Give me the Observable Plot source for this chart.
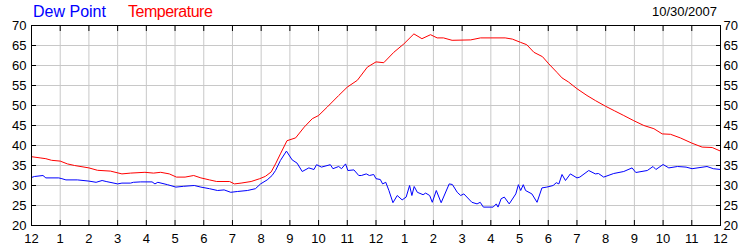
<!DOCTYPE html>
<html>
<head>
<meta charset="utf-8">
<script src="https://cdn.jsdelivr.net/npm/d3@7"></script>
<script src="https://cdn.jsdelivr.net/npm/@observablehq/plot@0.6"></script>
<style>
  html, body { margin: 0; padding: 0; background: #fff; }
  #wrap { position: relative; width: 750px; height: 250px; font-family: "Liberation Sans", Arial, sans-serif; }
  .leg { position: absolute; font-size: 16px; line-height: 16px; white-space: nowrap; }
  #date { position: absolute; font-size: 13px; line-height: 13px; right: 33px; top: 5px; color: #000; }
</style>
</head>
<body>
<div id="wrap">
  <div class="leg" id="legDew" style="left:33px; top:4px; color:#0000ff;"></div>
  <div class="leg" id="legTemp" style="left:128px; top:4px; color:#ff0000; letter-spacing:-0.5px;"></div>
  <div id="date"></div>
</div>
<script>
const seriesNames = ["Dew Point", "Temperature"];
const dateLabel = "10/30/2007";

const xTicks = d3.range(0, 25);
const xTickLabels = ["12","1","2","3","4","5","6","7","8","9","10","11","12","1","2","3","4","5","6","7","8","9","10","11","12"];
const yTicks = [20, 25, 30, 35, 40, 45, 50, 55, 60, 65, 70];

const tempHours = [0,0.3,0.5,0.7,1.0,1.25,1.5,2.0,2.3,2.75,3.15,3.45,3.95,4.25,4.5,4.8,5.05,5.35,5.65,5.9,6.2,6.45,6.9,7.07,7.3,7.65,7.95,8.15,8.35,8.5,8.67,8.9,9.2,9.5,9.78,10.0,10.3,10.7,11.0,11.35,11.7,12.0,12.27,12.62,12.97,13.32,13.6,13.9,14.13,14.35,14.65,15.3,15.64,16.0,16.5,16.75,17.03,17.25,17.5,17.8,18.02,18.3,18.48,18.7,19.0,19.35,19.65,20.0,20.3,20.63,20.98,21.33,21.68,21.97,22.26,22.6,23.0,23.36,23.71,24.0];
const tempValues = [37.2,36.9,36.7,36.3,36.1,35.4,35.0,34.4,33.8,33.6,32.9,33.1,33.3,33.1,33.3,32.9,32.1,32.1,32.5,31.9,31.4,31.0,31.0,30.4,30.6,31.0,31.7,32.3,33.4,35.4,37.9,41.2,41.9,44.6,46.7,47.5,49.6,52.5,54.6,56.3,59.6,60.9,60.7,63.3,65.4,67.9,66.7,67.7,66.9,66.9,66.3,66.4,66.9,66.9,66.9,66.6,65.8,65.2,63.3,62.2,60.4,58.3,56.9,55.9,54.2,52.5,51.2,49.8,48.7,47.5,46.2,45.0,44.2,42.9,42.8,41.9,40.6,39.6,39.5,38.6];

const dewHours = [0,0.1,0.4,0.5,0.95,1.06,1.2,1.6,2.0,2.25,2.46,2.6,3.0,3.15,3.45,3.55,3.8,4.2,4.3,4.4,4.74,5.03,5.3,5.67,5.9,6.2,6.48,6.71,6.94,7.17,7.52,7.8,7.98,8.21,8.38,8.5,8.67,8.88,9.08,9.25,9.43,9.66,9.84,9.93,10.1,10.41,10.5,10.7,10.8,10.94,11.02,11.23,11.4,11.49,11.66,11.77,11.92,12.0,12.15,12.23,12.34,12.45,12.59,12.74,12.91,13.05,13.17,13.25,13.33,13.44,13.64,13.73,13.87,13.96,14.1,14.27,14.55,14.66,14.83,14.95,15.06,15.34,15.52,15.63,15.74,16.08,16.19,16.25,16.36,16.47,16.64,16.87,16.96,17.04,17.13,17.21,17.43,17.61,17.78,17.95,18.17,18.28,18.37,18.48,18.6,18.77,19.0,19.1,19.41,19.64,19.75,19.93,20.28,20.63,20.92,21.05,21.45,21.65,21.75,22.0,22.2,22.5,22.8,23.01,23.53,23.75,24.0];
const dewValues = [32.0,32.25,32.5,31.9,31.9,31.7,31.4,31.4,31.1,30.8,31.25,31.0,30.4,30.6,30.6,30.8,30.9,30.9,30.4,30.8,30.2,29.6,29.8,30.0,29.6,29.2,28.75,28.9,28.3,28.5,28.75,29.2,30.4,31.4,32.5,33.75,36.25,38.6,36.4,35.6,33.5,34.4,34.0,35.2,34.6,35.2,34.2,34.75,34.2,35.4,33.75,33.9,32.5,32.5,32.9,32.5,32.75,31.7,31.5,30.4,30.8,28.75,25.7,27.5,26.4,27.1,30.0,27.5,29.75,28.3,27.7,28.1,27.5,25.8,28.75,25.7,30.4,30.25,28.3,27.5,27.9,25.8,25.4,25.8,24.6,24.6,25.4,24.6,26.7,27.1,25.4,27.9,30.2,28.75,30.2,28.75,27.9,25.8,29.4,29.6,30.0,30.7,30.4,32.75,31.25,32.9,31.9,32.1,33.75,32.9,33.0,32.1,33.0,33.5,34.4,33.25,33.75,34.75,34.0,35.25,34.4,34.75,34.6,34.2,34.75,34.2,34.0];

const colors = ["#0000ff", "#ff0000"];

document.getElementById("legDew").textContent = seriesNames[0];
document.getElementById("legTemp").textContent = seriesNames[1];
document.getElementById("date").textContent = dateLabel;

const temp = tempHours.map((h, i) => ({h, v: tempValues[i]}));
const dew = dewHours.map((h, i) => ({h, v: dewValues[i]}));

const chart = Plot.plot({
  width: 750,
  height: 250,
  marginTop: 25,
  marginBottom: 25,
  marginLeft: 31,
  marginRight: 30,
  style: {fontFamily: "Liberation Sans, Arial, sans-serif", fontSize: "13px", color: "#000", background: "transparent", overflow: "visible"},
  x: {domain: [0, 24], label: null},
  y: {domain: [20, 70], label: null},
  marks: [
    Plot.gridX(xTicks, {stroke: "#c8c8c8", strokeOpacity: 1}),
    Plot.gridY(yTicks, {stroke: "#c8c8c8", strokeOpacity: 1}),
    Plot.line(temp, {x: "h", y: "v", stroke: colors[1], strokeWidth: 1}),
    Plot.line(dew, {x: "h", y: "v", stroke: colors[0], strokeWidth: 1}),
    Plot.frame({stroke: "#000"}),
    Plot.axisX(xTicks, {anchor: "bottom", tickSize: 5, dy: -5, tickFormat: () => "", label: null}),
    Plot.axisX(xTicks, {anchor: "top", tickSize: 5, dy: 5, tickFormat: () => "", label: null}),
    Plot.axisY(yTicks, {anchor: "left", tickSize: 5, dx: 5, tickFormat: () => "", label: null}),
    Plot.axisY(yTicks, {anchor: "right", tickSize: 5, dx: -5, tickFormat: () => "", label: null}),
    Plot.axisX(xTicks, {anchor: "bottom", tickSize: 0, tickPadding: 8, tickFormat: (d) => xTickLabels[d], label: null}),
    Plot.axisY(yTicks, {anchor: "left", tickSize: 0, tickPadding: 5, label: null}),
    Plot.axisY(yTicks, {anchor: "right", tickSize: 0, tickPadding: 3, label: null})
  ]
});
chart.style.position = "absolute";
chart.style.left = "0";
chart.style.top = "0";
document.getElementById("wrap").appendChild(chart);
</script>
</body>
</html>
